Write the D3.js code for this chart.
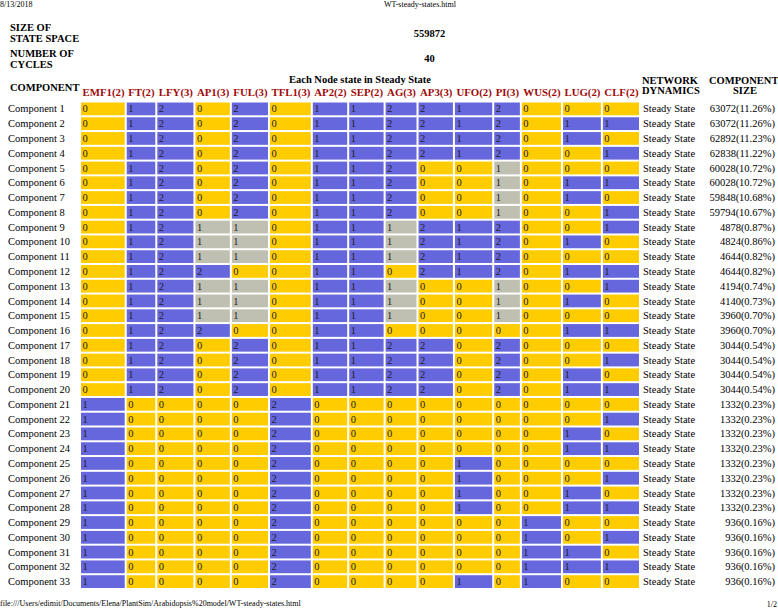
<!DOCTYPE html>
<html><head><meta charset="utf-8">
<script src="https://cdn.jsdelivr.net/npm/d3@7/dist/d3.min.js"></script>
<style>
html,body{margin:0;padding:0;background:#fff;}
svg{display:block;font-family:"Liberation Serif","Times New Roman",serif;}
</style></head>
<body><svg id="chart" width="778" height="611"></svg>
<script>
// ---- data ----
const genes  = ["EMF1","FT","LFY","AP1","FUL","TFL1","AP2","SEP","AG","AP3","UFO","PI","WUS","LUG","CLF"];
const levels = [2,2,3,3,3,3,2,2,3,3,2,3,2,2,2];
const components = d3.range(1,34).map(i => "Component " + i);
const states = [
 "0 1 2 0 2 0 1 1 2 2 1 2 0 0 0",
 "0 1 2 0 2 0 1 1 2 2 1 2 0 1 1",
 "0 1 2 0 2 0 1 1 2 2 1 2 0 1 0",
 "0 1 2 0 2 0 1 1 2 2 1 2 0 0 1",
 "0 1 2 0 2 0 1 1 2 0 0 1 0 0 0",
 "0 1 2 0 2 0 1 1 2 0 0 1 0 1 1",
 "0 1 2 0 2 0 1 1 2 0 0 1 0 1 0",
 "0 1 2 0 2 0 1 1 2 0 0 1 0 0 1",
 "0 1 2 1 1 0 1 1 1 2 1 2 0 0 1",
 "0 1 2 1 1 0 1 1 1 2 1 2 0 1 0",
 "0 1 2 1 1 0 1 1 1 2 1 2 0 0 0",
 "0 1 2 2 0 0 1 1 0 2 1 2 0 1 1",
 "0 1 2 1 1 0 1 1 1 0 0 1 0 0 1",
 "0 1 2 1 1 0 1 1 1 0 0 1 0 1 0",
 "0 1 2 1 1 0 1 1 1 0 0 1 0 0 0",
 "0 1 2 2 0 0 1 1 0 0 0 0 0 1 1",
 "0 1 2 0 2 0 1 1 2 2 0 2 0 0 0",
 "0 1 2 0 2 0 1 1 2 2 0 2 0 0 1",
 "0 1 2 0 2 0 1 1 2 2 0 2 0 1 0",
 "0 1 2 0 2 0 1 1 2 2 0 2 0 1 1",
 "1 0 0 0 0 2 0 0 0 0 0 0 0 0 0",
 "1 0 0 0 0 2 0 0 0 0 0 0 0 0 1",
 "1 0 0 0 0 2 0 0 0 0 0 0 0 1 0",
 "1 0 0 0 0 2 0 0 0 0 0 0 0 1 1",
 "1 0 0 0 0 2 0 0 0 0 1 0 0 0 0",
 "1 0 0 0 0 2 0 0 0 0 1 0 0 0 1",
 "1 0 0 0 0 2 0 0 0 0 1 0 0 1 0",
 "1 0 0 0 0 2 0 0 0 0 1 0 0 1 1",
 "1 0 0 0 0 2 0 0 0 0 0 0 1 0 0",
 "1 0 0 0 0 2 0 0 0 0 0 0 1 0 1",
 "1 0 0 0 0 2 0 0 0 0 0 0 1 1 0",
 "1 0 0 0 0 2 0 0 0 0 0 0 1 1 1",
 "1 0 0 0 0 2 0 0 0 0 1 0 1 0 0"
];
const dynamics = d3.range(33).map(() => "Steady State");
const sizes = [63072,63072,62892,62838,60028,60028,59848,59794,4878,4824,4644,4644,4194,4140,3960,3960,
  3044,3044,3044,3044,1332,1332,1332,1332,1332,1332,1332,1332,936,936,936,936,936];
const percents = ["11.26","11.26","11.23","11.22","10.72","10.72","10.68","10.67","0.87","0.86","0.82","0.82","0.74","0.73","0.70","0.70",
  "0.54","0.54","0.54","0.54","0.23","0.23","0.23","0.23","0.23","0.23","0.23","0.23","0.16","0.16","0.16","0.16","0.16"];
const stateSpace = "559872";
const numCycles = "40";
const pageDate = "8/13/2018";
const pageTitle = "WT-steady-states.html";
const pageUrl = "file:///Users/edimit/Documents/Elena/PlantSim/Arabidopsis%20model/WT-steady-states.html";
const pageNum = "1/2";

// ---- drawing ----
const svg = d3.select("#chart");
const FS = 10.5, HFS = 10.8, PFS = 8;
const YELLOW = "#ffcc00", BLUE = "#6666dd", GREY = "#c0c0b2", RED = "#a00a0a";
const color2 = d3.scaleOrdinal([0,1],[YELLOW,BLUE]);
const color3 = d3.scaleOrdinal([0,1,2],[YELLOW,GREY,BLUE]);

const headers = genes.map((g,i) => `${g}(${levels[i]})`);

// measure header widths to size columns like the HTML table did, then fit to the grid span
const meas = svg.append("text").attr("font-size",HFS).attr("font-weight","bold").attr("visibility","hidden");
const rawW = headers.map(h => { meas.text(h); return meas.node().getComputedTextLength() + 3; });
meas.remove();
const gap = 2, x0 = 81, x1 = 639;
const k = (x1 - x0 - gap*(genes.length-1)) / d3.sum(rawW);
const widths = rawW.map(w => w*k);
const starts = [];
widths.reduce((acc,w) => { starts.push(acc); return acc + w + gap; }, x0);
const xCol = d3.scaleOrdinal(genes, starts);
const wCol = d3.scaleOrdinal(genes, widths);

const y = d3.scaleBand().domain(components).range([102.5, 588]).paddingInner(0.135);

// page header/footer
svg.append("text").attr("x",0).attr("y",7).attr("font-size",PFS).text(pageDate);
svg.append("text").attr("x",384).attr("y",7).attr("font-size",PFS).text(pageTitle);
svg.append("text").attr("x",0).attr("y",606).attr("font-size",PFS).text(pageUrl);
svg.append("text").attr("x",777).attr("y",607).attr("font-size",PFS).attr("text-anchor","end").text(pageNum);

// top info block
const bold = (t,x,yy,anchor) => svg.append("text").attr("x",x).attr("y",yy).attr("font-size",FS)
  .attr("font-weight","bold").attr("text-anchor",anchor||"start").text(t);
bold("SIZE OF",10,31); bold("STATE SPACE",10,42);
bold("NUMBER OF",10,57); bold("CYCLES",10,68);
const infoCenter = (x0 + 778) / 2;
bold(stateSpace, infoCenter, 37, "middle");
bold(numCycles, infoCenter, 62, "middle");

// table header
bold("COMPONENT",10,91);
bold("Each Node state in Steady State",(x0+x1)/2,83,"middle");
bold("NETWORK",642,84); bold("DYNAMICS",642,94);
bold("COMPONENT",709,84); bold("SIZE",745,94,"middle");

svg.append("g").selectAll("text").data(genes).join("text")
  .attr("x", g => xCol(g) + 1.5).attr("y", 95.5)
  .attr("font-size",HFS).attr("font-weight","bold").attr("fill",RED)
  .text((g,i) => headers[i]);

// rows
const rows = svg.append("g").selectAll("g").data(components).join("g")
  .attr("transform", c => `translate(0,${y(c)})`);

rows.append("text").attr("x",8).attr("y", y.bandwidth()/2 + 3.6).attr("font-size",FS).text(c => c);

const cells = rows.selectAll("g.cell").data((c,ri) => states[ri].split(" ").map((v,gi) => ({g:genes[gi], lv:levels[gi], v:+v})))
  .join("g").attr("class","cell");
cells.append("rect")
  .attr("x", d => xCol(d.g)).attr("y",0)
  .attr("width", d => wCol(d.g)).attr("height", y.bandwidth())
  .attr("fill", d => d.lv === 3 ? color3(d.v) : color2(d.v));
cells.append("text")
  .attr("x", d => xCol(d.g) + 1.5).attr("y", y.bandwidth()/2 + 3.6)
  .attr("font-size",FS).attr("fill","#222").text(d => d.v);

rows.append("text").attr("x",643).attr("y", y.bandwidth()/2 + 3.6).attr("font-size",FS)
  .text((c,i) => dynamics[i]);
rows.append("text").attr("x",775).attr("y", y.bandwidth()/2 + 3.6).attr("font-size",FS)
  .attr("text-anchor","end").text((c,i) => `${sizes[i]}(${percents[i]}%)`);
</script></body></html>
